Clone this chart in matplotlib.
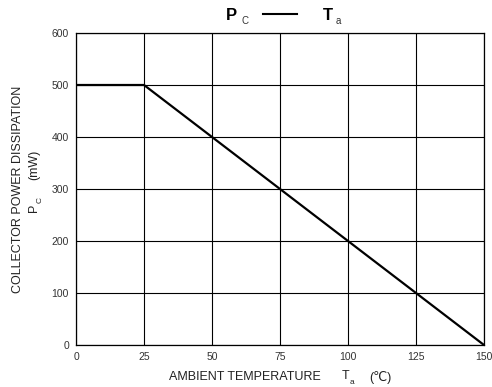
import matplotlib.pyplot as plt

plt.rcParams['font.family'] = ['Liberation Sans', 'DejaVu Sans']

# derating curve Pc vs Ta
ta = [0, 25, 150]
pc = [500, 500, 0]
xticks = [0, 25, 50, 75, 100, 125, 150]
yticks = [0, 100, 200, 300, 400, 500, 600]

W, H = 492, 387
fig = plt.figure(figsize=(4.92, 3.87), dpi=100)
ax = fig.add_axes([76/W, 42/H, 408/W, 312/H])

ax.plot(ta, pc, c='black', lw=1.6, zorder=3)
ax.set_xlim(0, 150)
ax.set_ylim(0, 600)
ax.set_xticks(xticks)
ax.set_yticks(yticks)
ax.grid(True, color='black', lw=0.8)
ax.tick_params(axis='both', length=0, labelsize=7.5, colors='#333333', pad=5)
for s in ax.spines.values():
    s.set_linewidth(0.9)

def txt(x, y, s, **kw):
    fig.text(x/W, 1 - y/H, s, va='center', **kw)

# title  Pc ---- Ta
txt(226, 15, 'P', fontsize=12, fontweight='bold')
txt(241, 21, 'C', fontsize=7, color='#333333')
fig.add_artist(plt.Line2D([263/W, 297/W], [1 - 14/H, 1 - 14/H], c='black', lw=1.5))
txt(323, 15, 'T', fontsize=12, fontweight='bold')
txt(336, 21, 'a', fontsize=7, color='#333333')

# y label
txt(18, 189, 'COLLECTOR POWER DISSIPATION', rotation=90, fontsize=9,
    ha='center', color='#222222')
txt(34, 208, 'P', rotation=90, fontsize=9, ha='center', color='#222222')
txt(40, 200, 'C', rotation=90, fontsize=6, ha='center', color='#222222')
txt(34, 165, '(mW)', rotation=90, fontsize=9, ha='center', color='#222222')

# x label
txt(169, 377, 'AMBIENT TEMPERATURE', fontsize=9, ha='left', color='#222222')
txt(342, 376, 'T', fontsize=9, ha='left', color='#222222')
txt(350, 382, 'a', fontsize=6, ha='left', color='#222222')
txt(369, 377, '(℃)', fontsize=9, ha='left', color='#222222')

fig.savefig('out.png', dpi=100)
